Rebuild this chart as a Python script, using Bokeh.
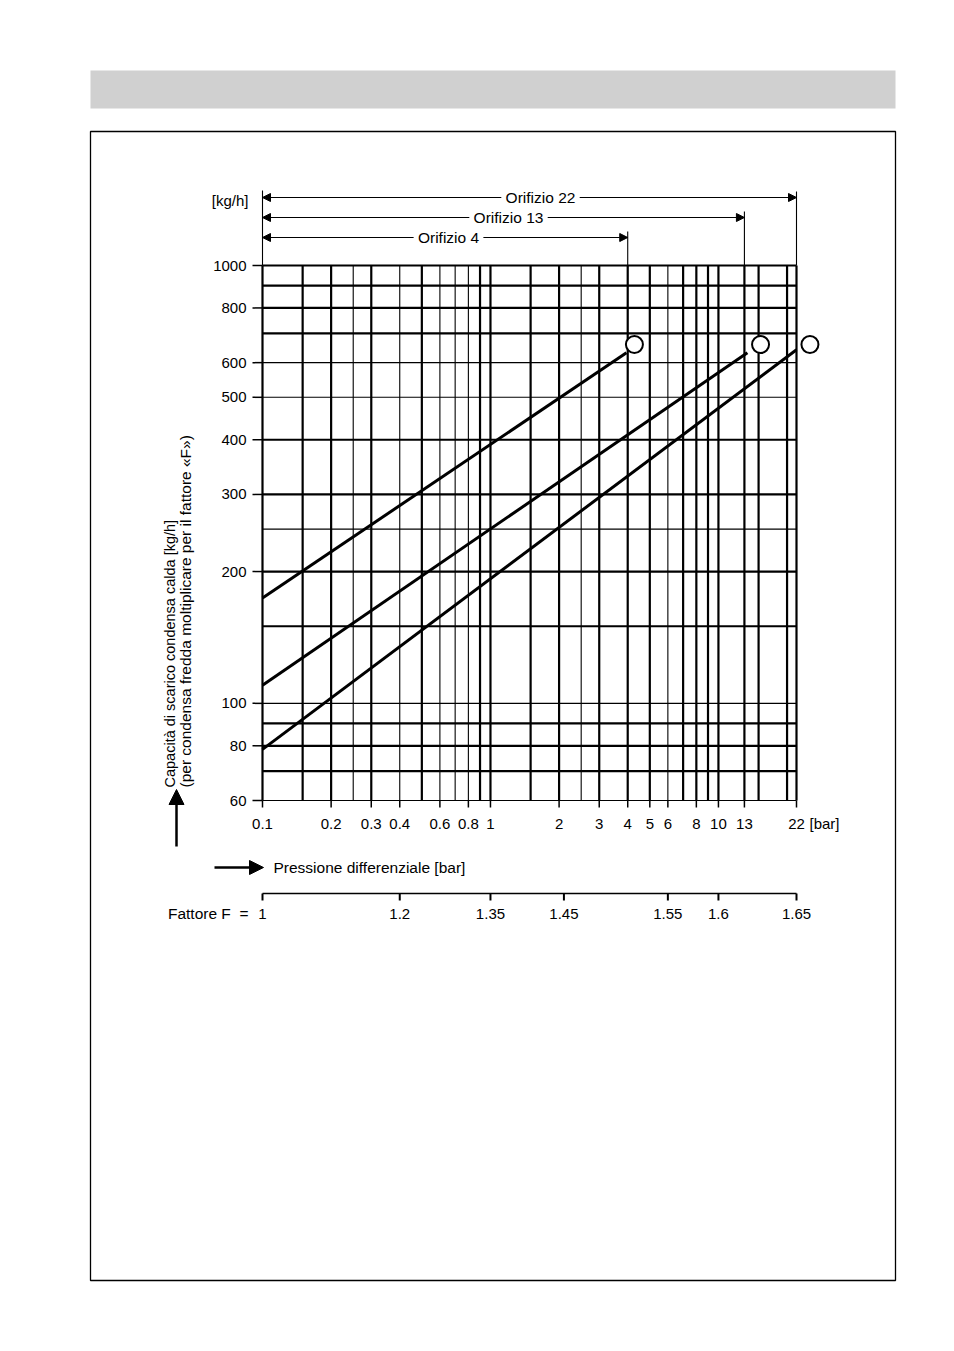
import math
from math import log10
from bokeh.plotting import figure
from bokeh.models import Range1d, Arrow, NormalHead, Label
from bokeh.core.properties import value
from bokeh.embed import file_html
from bokeh.resources import INLINE

FONT = "Liberation Sans"

# ---------------- data ----------------
pressure_tick_values = [0.1, 0.2, 0.3, 0.4, 0.6, 0.8, 1, 2, 3, 4, 5, 6, 8, 10, 13, 22]
pressure_tick_labels = ["0.1", "0.2", "0.3", "0.4", "0.6", "0.8", "1", "2", "3", "4",
                        "5", "6", "8", "10", "13", "22"]
capacity_tick_values = [60, 80, 100, 200, 300, 400, 500, 600, 800, 1000]
capacity_tick_labels = ["60", "80", "100", "200", "300", "400", "500", "600", "800", "1000"]
grid_bar_major = [0.1, 0.15, 0.2, 0.3, 0.5, 0.9, 1, 1.5, 2, 3, 4, 5, 7, 8, 9, 10, 13, 15, 20, 22]
grid_bar_minor = [0.25, 0.4, 0.6, 0.7, 0.8, 2.5, 6]
grid_kgh_major = [70, 80, 90, 150, 200, 300, 400, 700, 800, 900, 1000]
grid_kgh_minor = [60, 100, 250, 500, 600]
orifice_names = ["Orifizio 4", "Orifizio 13", "Orifizio 22"]
orifice_bar_max = [4, 13, 22]
curve_bar_start = [0.1, 0.1, 0.1]
curve_kgh_start = [174, 110, 78.5]
curve_bar_end = [3.95, 13.4, 22]
curve_kgh_end = [632, 632, 642]
marker_bar = [4.28, 15.3, 25.2]
marker_kgh = [660, 660, 660]
factor_labels = ["1", "1.2", "1.35", "1.45", "1.55", "1.6", "1.65"]
factor_bar = [0.1, 0.4, 1, 2.1, 6, 10, 22]

# ---------------- layout (page pixels) ----------------
W, H = 936, 1333
OFF = 0
PX_X0, PX_X1 = 262, 796     # 0.1 bar and 22 bar
PX_Y0, PX_Y1 = 800, 265     # 60 kg/h and 1000 kg/h
KX = (PX_X1 - PX_X0) / (log10(22) - log10(0.1))
KY = (PX_Y0 - PX_Y1) / (log10(1000) - log10(60))


def xpx(px):
    return 10 ** (log10(0.1) + (px - PX_X0) / KX)


def ypx(py):
    return 10 ** (log10(60) + (PX_Y0 - py) / KY)


FL, FR, FT, FB = 84, 902, 60, 1292

p = figure(width=W, height=H, x_axis_type="log", y_axis_type="log",
           x_range=Range1d(xpx(FL), xpx(FR)), y_range=Range1d(ypx(FB), ypx(FT)),
           x_axis_location=None, y_axis_location=None, toolbar_location=None,
           output_backend="svg",
           min_border_left=FL - OFF, min_border_right=W - (FR - OFF),
           min_border_top=FT - OFF, min_border_bottom=H - (FB - OFF))
p.xgrid.visible = False
p.ygrid.visible = False
p.outline_line_color = None
p.background_fill_color = "white"
p.border_fill_color = "white"

# header band and page box
p.quad(left=[xpx(90)], right=[xpx(895)], top=[ypx(70)], bottom=[ypx(108)],
       fill_color="#d0d0d0", line_color=None)
p.quad(left=[xpx(90)], right=[xpx(895)], top=[ypx(131)], bottom=[ypx(1280)],
       fill_color=None, line_color="black", line_width=1.3)


# grid
def vlines(xs, lw):
    p.segment(x0=xs, y0=[60] * len(xs), x1=xs, y1=[1000] * len(xs),
              line_color="black", line_width=lw)


def hlines(ys, lw):
    p.segment(x0=[0.1] * len(ys), y0=ys, x1=[22] * len(ys), y1=ys,
              line_color="black", line_width=lw)


vlines(grid_bar_minor, 1.1)
hlines(grid_kgh_minor, 1.1)
vlines(grid_bar_major, 2.2)
hlines(grid_kgh_major, 2.2)

# axis ticks
p.segment(x0=[xpx(PX_X0 - 10)] * len(capacity_tick_values), y0=capacity_tick_values,
          x1=[0.1] * len(capacity_tick_values), y1=capacity_tick_values,
          line_color="black", line_width=1.5)
p.segment(x0=pressure_tick_values, y0=[60] * len(pressure_tick_values),
          x1=pressure_tick_values, y1=[ypx(PX_Y0 + 7)] * len(pressure_tick_values),
          line_color="black", line_width=1.5)

# orifice range boundary lines above chart
ROW_PX = [237, 217, 197]
p.segment(x0=[0.1], y0=[1000], x1=[0.1], y1=[ypx(190)], line_color="black", line_width=1.1)
p.segment(x0=orifice_bar_max, y0=[1000] * 3, x1=orifice_bar_max,
          y1=[ypx(r - 6) for r in ROW_PX], line_color="black", line_width=1.1)

# capacity curves
p.segment(x0=curve_bar_start, y0=curve_kgh_start, x1=curve_bar_end, y1=curve_kgh_end,
          line_color="black", line_width=3)
p.scatter(marker_bar, marker_kgh, marker="circle", size=17, fill_color="white",
          line_color="black", line_width=2)

# tick labels
TXT = dict(text_font=value(FONT), text_font_size="15px", text_color="black")
TXT2 = dict(text_font=value(FONT), text_font_size="15.5px", text_color="black")
p.text(x=[xpx(PX_X0 - 16)] * len(capacity_tick_values), y=capacity_tick_values,
       text=capacity_tick_labels, text_align="right", text_baseline="middle", **TXT)
p.text(x=pressure_tick_values, y=[ypx(823)] * len(pressure_tick_values),
       text=pressure_tick_labels, text_align="center", text_baseline="middle", **TXT)
p.text(x=[xpx(809)], y=[ypx(823)], text=["[bar]"], text_align="left",
       text_baseline="middle", **TXT)
p.text(x=[xpx(248)], y=[ypx(200)], text=["[kg/h]"], text_align="right",
       text_baseline="middle", **TXT)

# y title (rotated)
p.text(x=[xpx(169)], y=[ypx(787)], text=["Capacità di scarico condensa calda [kg/h]"],
       angle=math.pi / 2, text_align="left", text_baseline="middle",
       text_font=value(FONT), text_font_size="14.5px", text_color="black")
p.text(x=[xpx(185)], y=[ypx(787)],
       text=["(per condensa fredda moltiplicare per il fattore «F»)"],
       angle=math.pi / 2, text_align="left", text_baseline="middle",
       text_font=value(FONT), text_font_size="15.5px", text_color="black")

# x title
p.text(x=[xpx(273)], y=[ypx(867)], text=["Pressione differenziale [bar]"],
       text_align="left", text_baseline="middle", **TXT2)

# factor F scale
yF = ypx(893)
p.segment(x0=[0.1], y0=[yF], x1=[22], y1=[yF], line_color="black", line_width=1.5)
p.segment(x0=factor_bar, y0=[yF] * len(factor_bar), x1=factor_bar,
          y1=[ypx(900)] * len(factor_bar), line_color="black", line_width=2)
p.text(x=factor_bar, y=[ypx(913)] * len(factor_bar), text=factor_labels,
       text_align="center", text_baseline="middle", **TXT)
p.text(x=[xpx(248)], y=[ypx(913)], text=["Fattore F\u00a0\u00a0="],
       text_align="right", text_baseline="middle", **TXT2)

# arrows
for name, xmax, row in zip(orifice_names, orifice_bar_max, ROW_PX):
    yy = ypx(row)
    p.add_layout(Arrow(x_start=0.1, y_start=yy, x_end=xmax, y_end=yy,
                       line_color="black", line_width=1.2,
                       start=NormalHead(size=8, fill_color="black", line_color="black"),
                       end=NormalHead(size=8, fill_color="black", line_color="black")))
LABEL_PX = [448, 508, 540]
for name, lx, row in zip(orifice_names, LABEL_PX, ROW_PX):
    p.add_layout(Label(x=xpx(lx), y=ypx(row), text="\u00a0" + name + "\u00a0",
                       text_align="center", text_baseline="middle",
                       background_fill_color="white", text_font=FONT,
                       text_font_size="15.5px", text_color="black"))

p.add_layout(Arrow(x_start=xpx(176), y_start=ypx(846), x_end=xpx(176), y_end=ypx(789),
                   line_color="black", line_width=2.5,
                   end=NormalHead(size=15, fill_color="black", line_color="black")))
p.add_layout(Arrow(x_start=xpx(214), y_start=ypx(867), x_end=xpx(263), y_end=ypx(867),
                   line_color="black", line_width=2.5,
                   end=NormalHead(size=14, fill_color="black", line_color="black")))

open("out.html", "w").write(file_html(p, INLINE))
